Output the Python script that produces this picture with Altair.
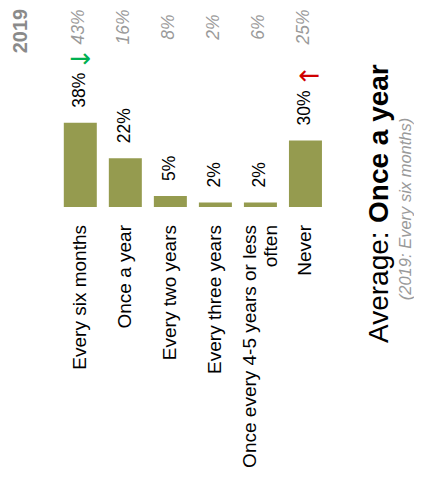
import altair as alt
import pandas as pd

# ---- data ----
categories = [
    "Every six months",
    "Once a year",
    "Every two years",
    "Every three years",
    "Once every 4-5 years or less often",
    "Never",
]
category_labels = [
    "Every six months",
    "Once a year",
    "Every two years",
    "Every three years",
    "Once every 4-5 years or less\noften",
    "Never",
]
values_now = [38, 22, 5, 2, 2, 30]
values_2019 = [43, 16, 8, 2, 6, 25]
arrow_glyphs = ["→", "", "", "", "", "←"]
arrow_kind = ["down", "", "", "", "", "up"]
year_label = "2019"
title_normal = "Average: "
title_bold = "Once a year"
subtitle = "(2019: Every six months)"

df = pd.DataFrame({
    "i": list(range(len(categories))),
    "cat": categories,
    "lab": category_labels,
    "val": values_now,
    "prev": values_2019,
    "arrow": arrow_glyphs,
    "kind": arrow_kind,
})
df["val_txt"] = [f"{v}%" for v in values_now]
df["prev_txt"] = [f"{v}%" for v in values_2019]
df["multi"] = ["\n" in s for s in category_labels]

FONT = "Liberation Sans"
W, H = 406, 470

x_scale = alt.Scale(domain=[-1.4945, 7.2995], zero=False, nice=False)
x_enc = alt.X("i:Q", scale=x_scale, axis=None)
y_scale = alt.Scale(domain=[-122.07, 89.64], zero=False, nice=False)
y_enc = alt.Y("val:Q", scale=y_scale, axis=None)
y_zero = alt.Y(datum=0, type="quantitative", scale=y_scale, axis=None)

base = alt.Chart(df).encode(x=x_enc)

bars = base.mark_bar(color="#959b4f", size=33).encode(y=y_enc, y2=alt.Y2(datum=0))

val_labels = base.mark_text(
    angle=270, align="left", baseline="middle", dx=15, fontSize=17.5,
    font=FONT, color="#000000",
).encode(y=y_enc, text="val_txt:N")

cat_style = dict(angle=270, align="right", baseline="middle", dx=-18,
                 fontSize=19, font=FONT, color="#000000",
                 lineBreak="\n", lineHeight=21)

cat_labels = base.transform_filter(~alt.datum.multi).mark_text(
    **cat_style
).encode(y=y_zero, text="lab:N")

cat_labels_multi = base.transform_filter(alt.datum.multi).mark_text(
    dy=-10.5, **cat_style
).encode(y=y_zero, text="lab:N")

prev_labels = base.mark_text(
    angle=270, align="center", baseline="middle", dy=-1, fontSize=17.5,
    font=FONT, fontStyle="italic", color="#9a9a9a",
).encode(y=alt.value(19), text="prev_txt:N")

arrow_down = base.transform_filter(alt.datum.kind == "down").mark_text(
    baseline="middle", align="center", dy=-64, dx=0, fontSize=26,
    font="DejaVu Sans", color="#00b050",
).encode(y=y_enc, text="arrow:N")

arrow_up = base.transform_filter(alt.datum.kind == "up").mark_text(
    baseline="middle", align="center", dy=-64, dx=4, fontSize=26,
    font="DejaVu Sans", color="#d00000",
).encode(y=y_enc, text="arrow:N")

year = alt.Chart(pd.DataFrame({"t": [year_label]})).mark_text(
    angle=270, align="center", baseline="alphabetic", fontSize=20,
    fontWeight="bold", font=FONT, color="#8a8a8a",
).encode(text="t:N", x=alt.value(19), y=alt.value(23))

t1 = alt.Chart(pd.DataFrame({"t": [title_normal]})).mark_text(
    angle=270, align="left", baseline="alphabetic", fontSize=28,
    font=FONT, color="#000000",
).encode(text="t:N", x=alt.value(380), y=alt.value(335))

t2 = alt.Chart(pd.DataFrame({"t": [title_bold]})).mark_text(
    angle=270, align="left", baseline="alphabetic", fontSize=28,
    fontWeight="bold", font=FONT, color="#000000",
).encode(text="t:N", x=alt.value(380), y=alt.value(215))

sub = alt.Chart(pd.DataFrame({"t": [subtitle]})).mark_text(
    angle=270, align="center", baseline="alphabetic", fontSize=16.5,
    fontStyle="italic", font=FONT, color="#9a9a9a",
).encode(text="t:N", x=alt.value(403), y=alt.value(201))

chart = alt.layer(
    bars, val_labels, cat_labels, cat_labels_multi, prev_labels,
    arrow_down, arrow_up, year, t1, t2, sub,
).properties(
    width=W, height=H, autosize="none", padding=0,
).configure_view(stroke=None)

chart.save("out.html", embed_options={"renderer": "svg", "actions": False})
